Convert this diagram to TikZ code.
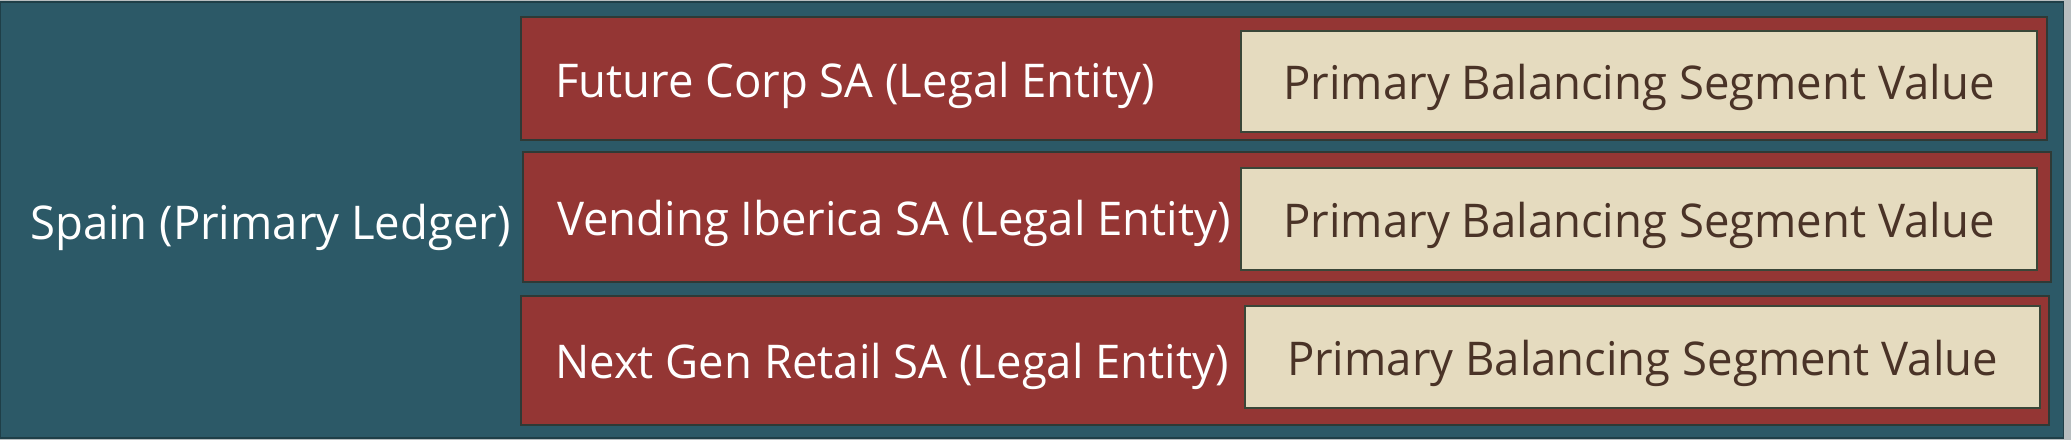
\documentclass[tikz,border=0pt]{standalone}
\usepackage{fontspec}
\setmainfont[FakeStretch=0.978]{Open Sans}
\definecolor{tealbg}{HTML}{2C5967}
\definecolor{tealedge}{HTML}{1F3F48}
\definecolor{redbox}{HTML}{943634}
\definecolor{rededge}{HTML}{2E3A36}
\definecolor{beige}{HTML}{E5DBBF}
\definecolor{beigeedge}{HTML}{3A4638}
\definecolor{browntext}{HTML}{4A3327}
\definecolor{framegray}{HTML}{B8BEC0}
\tikzset{
  ledgerbox/.style={draw=tealedge, line width=1.2pt, fill=tealbg, inner sep=0pt, outer sep=0pt},
  entitybox/.style={draw=rededge, line width=1.5pt, fill=redbox, inner sep=0pt, outer sep=0pt},
  segbox/.style={draw=beigeedge, line width=1.5pt, fill=beige, inner sep=0pt, outer sep=0pt},
  whitelabel/.style={text=white, font=\fontsize{46.5}{52}\selectfont, inner sep=0pt},
  brownlabel/.style={text=browntext, font=\fontsize{46.5}{52}\selectfont, inner sep=0pt},
}
\begin{document}
\begin{tikzpicture}[x=1pt,y=-1pt]
\fill[framegray] (0,0) rectangle (2071,440);
\useasboundingbox (0,0) rectangle (2071,440);
\node (ledger) [ledgerbox, minimum width=2063pt, minimum height=436pt] at (1032,220) {};
\node (le1) [entitybox, minimum width=1526pt, minimum height=123pt] at (1284,78.5) {};
\node (le2) [entitybox, minimum width=1528pt, minimum height=130pt] at (1287,217) {};
\node (le3) [entitybox, minimum width=1528pt, minimum height=129pt] at (1285,360.5) {};
\node (sv1) [segbox, minimum width=796pt, minimum height=101pt] at (1639,81.5) {};
\node (sv2) [segbox, minimum width=796pt, minimum height=102pt] at (1639,219) {};
\node (sv3) [segbox, minimum width=795pt, minimum height=102pt] at (1642.5,357) {};
\node (ledgerlabel) [whitelabel, anchor=base] at (270.5,239) {Spain (Primary Ledger)};
\node (le1label) [whitelabel, anchor=base west] at (555,97) {Future Corp SA (Legal Entity)};
\node (le2label) [whitelabel, anchor=base west] at (557,235) {Vending Iberica SA (Legal Entity)};
\node (le3label) [whitelabel, anchor=base west] at (555,378) {Next Gen Retail SA (Legal Entity)};
\node (sv1label) [brownlabel, anchor=base] at (sv1.center |- 0,99) {Primary Balancing Segment Value};
\node (sv2label) [brownlabel, anchor=base] at (sv2.center |- 0,237) {Primary Balancing Segment Value};
\node (sv3label) [brownlabel, anchor=base] at (sv3.center |- 0,375) {Primary Balancing Segment Value};
\end{tikzpicture}
\end{document}
